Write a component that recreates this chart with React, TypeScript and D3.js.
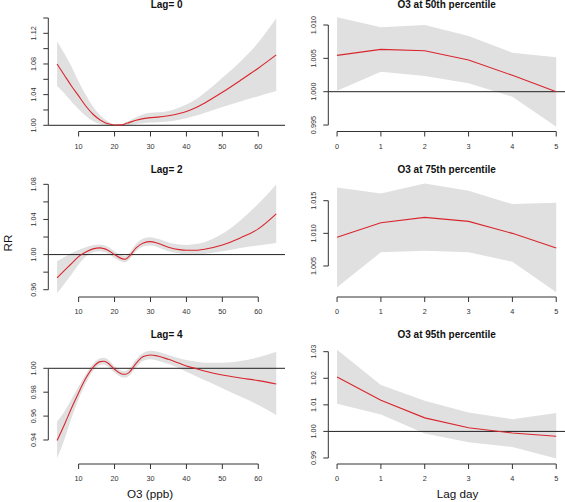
import React from "react";
import * as d3 from "d3";

// ---------- data ----------
const o3 = [4, 6, 8, 10, 12, 14, 16, 17, 18, 20, 22, 23, 24, 26, 28, 30, 32, 35, 38, 40, 43, 45, 50, 55, 60, 65];

const lag0Est = [1.080, 1.0657, 1.0513, 1.0383, 1.0252, 1.0144, 1.0070, 1.0043, 1.0022, 1.0003, 1.0005, 1.0021, 1.0035, 1.0065, 1.0087, 1.0100, 1.0106, 1.0124, 1.0153, 1.0180, 1.0238, 1.0288, 1.0430, 1.0585, 1.0745, 1.0918];
const lag0Hi = [1.1092, 1.094, 1.0766, 1.057, 1.0396, 1.0244, 1.013, 1.009, 1.0057, 1.0013, 1.0017, 1.0035, 1.0057, 1.0104, 1.0144, 1.0165, 1.017, 1.0188, 1.0232, 1.027, 1.035, 1.042, 1.062, 1.083, 1.108, 1.1396];
const lag0Lo = [1.0513, 1.0418, 1.0309, 1.0209, 1.0122, 1.0057, 1.0017, 1.0006, 1.0, 0.9996, 0.9996, 0.9999, 1.0004, 1.0017, 1.0026, 1.0035, 1.0040, 1.0050, 1.0073, 1.0092, 1.013, 1.016, 1.024, 1.031, 1.038, 1.0448];

const lag2Est = [0.9734, 0.9818, 0.9897, 0.9977, 1.003, 1.0065, 1.0076, 1.0068, 1.0053, 1.0, 0.9954, 0.9947, 0.9977, 1.0076, 1.0133, 1.0148, 1.0129, 1.0084, 1.0057, 1.0049, 1.0049, 1.0061, 1.011, 1.019, 1.0293, 1.0464];
const lag2Hi = [0.9924, 0.997, 1.0015, 1.0053, 1.0084, 1.0106, 1.0114, 1.0106, 1.0091, 1.0038, 0.9992, 0.9985, 1.0015, 1.0122, 1.0182, 1.0198, 1.0179, 1.0137, 1.0114, 1.011, 1.0122, 1.0141, 1.0236, 1.0388, 1.0578, 1.0798];
const lag2Lo = [0.9559, 0.9666, 0.9772, 0.9886, 0.9977, 1.0027, 1.0038, 1.003, 1.0015, 0.9962, 0.992, 0.9913, 0.9939, 1.0038, 1.0091, 1.0103, 1.0084, 1.0038, 1.0011, 1.0, 1.0, 1.0008, 1.0038, 1.0076, 1.0103, 1.0133];

const lag4Est = [0.9395, 0.9526, 0.9665, 0.9796, 0.9916, 1.0008, 1.0056, 1.0059, 1.0047, 0.9992, 0.9953, 0.995, 0.9964, 1.0042, 1.0098, 1.0112, 1.0103, 1.0075, 1.0042, 1.002, 0.9995, 0.9978, 0.9944, 0.9919, 0.9897, 0.9869];
const lag4Hi = [0.9554, 0.9637, 0.9741, 0.9847, 0.9953, 1.0036, 1.0084, 1.0089, 1.0078, 1.002, 0.998, 0.9978, 0.9994, 1.0075, 1.0131, 1.0148, 1.0139, 1.0112, 1.0084, 1.007, 1.0055, 1.0047, 1.0047, 1.0061, 1.0092, 1.0139];
const lag4Lo = [0.9247, 0.94, 0.9581, 0.9741, 0.9874, 0.9978, 1.0028, 1.0031, 1.0017, 0.9964, 0.9925, 0.9922, 0.9936, 1.0008, 1.0064, 1.0075, 1.0064, 1.0036, 1.0, 0.9972, 0.993, 0.9902, 0.9833, 0.9763, 0.9693, 0.9609];

const lagDays = [0, 1, 2, 3, 4, 5];

const p50Est = [1.00545, 1.00635, 1.00615, 1.00475, 1.00245, 1.0000];
const p50Hi = [1.01115, 1.00965, 1.0100, 1.00835, 1.00585, 1.00515];
const p50Lo = [1.00015, 1.003, 1.00235, 1.00125, 0.99925, 0.99475];

const p75Est = [1.00939, 1.01162, 1.01245, 1.01183, 1.0100, 1.00775];
const p75Hi = [1.01703, 1.01612, 1.01765, 1.01652, 1.01448, 1.01469];
const p75Lo = [1.00174, 1.0071, 1.00734, 1.0071, 1.00566, 1.00098];

const p95Est = [1.0205, 1.01176, 1.0051, 1.0014, 0.9994, 0.9982];
const p95Hi = [1.03075, 1.0175, 1.0115, 1.0071, 1.0046, 1.0069];
const p95Lo = [1.0104, 1.0064, 0.9992, 0.9959, 0.9941, 0.98985];

// axis limits and ticks
const o3Domain = [1.56, 67.44];
const o3Ticks = [10, 20, 30, 40, 50, 60];
const lagDomain = [-0.2, 5.2];
const lagTicks = [0, 1, 2, 3, 4, 5];

const lag0YDomain = [0.9919, 1.1452];
const lag0YTicks = [1.0, 1.02, 1.04, 1.06, 1.08, 1.1, 1.12, 1.14];
const lag0YLabels = [1.0, 1.04, 1.08, 1.12];

const lag2YDomain = [0.9517, 1.0838];
const lag2YTicks = [0.96, 0.98, 1.0, 1.02, 1.04, 1.06, 1.08];
const lag2YLabels = [0.96, 1.0, 1.04, 1.08];

const lag4YDomain = [0.9199, 1.017];
const lag4YTicks = [0.94, 0.96, 0.98, 1.0];
const lag4YLabels = [0.94, 0.96, 0.98, 1.0];

const p50YDomain = [0.99403, 1.01165];
const p50YTicks = [0.995, 1.0, 1.005, 1.01];

const p75YDomain = [1.00025, 1.01802];
const p75YTicks = [1.005, 1.01, 1.015];

const p95YDomain = [0.98774, 1.03139];
const p95YTicks = [0.99, 1.0, 1.01, 1.02, 1.03];

// ---------- layout ----------
const W = 565;
const H = 502;
const colX = [
  [48.3, 285],
  [328.3, 565],
];
const rowY = [
  [131.5, 14],
  [297, 181],
  [464, 348],
];
const titleBaseline = [8, 172.5, 338];
const FONT = "'Liberation Sans', Arial, Helvetica, sans-serif";
const TEXT = "#333";
const AXIS = "#333";
const BAND = "#e0e0e0";
const RED = "#d9262e";

type Panel = {
  title: string;
  col: number;
  row: number;
  x: number[];
  est: number[];
  hi: number[];
  lo: number[];
  xDomain: number[];
  xTicks: number[];
  yDomain: number[];
  yTicks: number[];
  yLabels: number[];
  fmt: (v: number) => string;
  smooth: boolean;
};

const f2 = d3.format(".2f");
const f3 = d3.format(".3f");

const panels: Panel[] = [
  { title: "Lag= 0", col: 0, row: 0, x: o3, est: lag0Est, hi: lag0Hi, lo: lag0Lo, xDomain: o3Domain, xTicks: o3Ticks, yDomain: lag0YDomain, yTicks: lag0YTicks, yLabels: lag0YLabels, fmt: f2, smooth: true },
  { title: "Lag= 2", col: 0, row: 1, x: o3, est: lag2Est, hi: lag2Hi, lo: lag2Lo, xDomain: o3Domain, xTicks: o3Ticks, yDomain: lag2YDomain, yTicks: lag2YTicks, yLabels: lag2YLabels, fmt: f2, smooth: true },
  { title: "Lag= 4", col: 0, row: 2, x: o3, est: lag4Est, hi: lag4Hi, lo: lag4Lo, xDomain: o3Domain, xTicks: o3Ticks, yDomain: lag4YDomain, yTicks: lag4YTicks, yLabels: lag4YLabels, fmt: f2, smooth: true },
  { title: "O3 at 50th percentile", col: 1, row: 0, x: lagDays, est: p50Est, hi: p50Hi, lo: p50Lo, xDomain: lagDomain, xTicks: lagTicks, yDomain: p50YDomain, yTicks: p50YTicks, yLabels: p50YTicks, fmt: f3, smooth: false },
  { title: "O3 at 75th percentile", col: 1, row: 1, x: lagDays, est: p75Est, hi: p75Hi, lo: p75Lo, xDomain: lagDomain, xTicks: lagTicks, yDomain: p75YDomain, yTicks: p75YTicks, yLabels: p75YTicks, fmt: f3, smooth: false },
  { title: "O3 at 95th percentile", col: 1, row: 2, x: lagDays, est: p95Est, hi: p95Hi, lo: p95Lo, xDomain: lagDomain, xTicks: lagTicks, yDomain: p95YDomain, yTicks: p95YTicks, yLabels: p95YTicks, fmt: f2, smooth: false },
];

function PanelView({ p }: { p: Panel }) {
  const [x0, x1] = colX[p.col];
  const [y0, y1] = rowY[p.row];
  const xs = d3.scaleLinear().domain(p.xDomain).range([x0, x1]);
  const ys = d3.scaleLinear().domain(p.yDomain).range([y0, y1]);
  const curve = p.smooth ? d3.curveMonotoneX : d3.curveLinear;
  const idx = p.x.map((_, i) => i);
  const area = d3
    .area<number>()
    .x((i) => xs(p.x[i]))
    .y0((i) => ys(p.lo[i]))
    .y1((i) => ys(p.hi[i]))
    .curve(curve);
  const line = d3
    .line<number>()
    .x((i) => xs(p.x[i]))
    .y((i) => ys(p.est[i]))
    .curve(curve);
  const showRef = p.yDomain[0] < 1 && p.yDomain[1] > 1;
  const yt0 = ys(p.yTicks[0]);
  const yt1 = ys(p.yTicks[p.yTicks.length - 1]);
  const xt0 = xs(p.xTicks[0]);
  const xt1 = xs(p.xTicks[p.xTicks.length - 1]);
  const tick = 5;
  return (
    <g>
      <path d={area(idx) || ""} fill={BAND} stroke="none" />
      {showRef && (
        <line x1={x0} x2={x1} y1={ys(1)} y2={ys(1)} stroke="#222" strokeWidth={1} />
      )}
      <path d={line(idx) || ""} fill="none" stroke={RED} strokeWidth={1.1} />
      {/* y axis */}
      <line x1={x0} x2={x0} y1={yt0} y2={yt1} stroke={AXIS} strokeWidth={1} />
      {p.yTicks.map((t) => (
        <line key={"yt" + t} x1={x0 - tick} x2={x0} y1={ys(t)} y2={ys(t)} stroke={AXIS} strokeWidth={1} />
      ))}
      {p.yLabels.map((t) => (
        <text
          key={"yl" + t}
          transform={`translate(${x0 - 14.5},${ys(t)}) rotate(-90)`}
          textAnchor="middle"
          dominantBaseline="central"
          fontSize={7.3}
          fill={TEXT}
          fontFamily={FONT}
        >
          {p.fmt(t)}
        </text>
      ))}
      {/* x axis */}
      <line x1={xt0} x2={xt1} y1={y0} y2={y0} stroke={AXIS} strokeWidth={1} />
      {p.xTicks.map((t) => (
        <line key={"xt" + t} x1={xs(t)} x2={xs(t)} y1={y0} y2={y0 + tick} stroke={AXIS} strokeWidth={1} />
      ))}
      {p.xTicks.map((t) => (
        <text
          key={"xl" + t}
          x={xs(t)}
          y={y0 + 14.5}
          textAnchor="middle"
          dominantBaseline="central"
          fontSize={7.3}
          fill={TEXT}
          fontFamily={FONT}
        >
          {String(t)}
        </text>
      ))}
      <text
        x={(x0 + x1) / 2}
        y={titleBaseline[p.row]}
        textAnchor="middle"
        fontSize={10}
        fontWeight="bold"
        fill="#111"
        fontFamily={FONT}
      >
        {p.title}
      </text>
    </g>
  );
}

export default function App() {
  return (
    <svg
      width={W}
      height={H}
      viewBox={`0 0 ${W} ${H}`}
      style={{ position: "fixed", left: 0, top: 0, background: "#fff" }}
    >
      <rect x={0} y={0} width={W} height={H} fill="#fff" />
      {panels.map((p) => (
        <PanelView key={p.title} p={p} />
      ))}
      <text
        transform={`translate(7,243) rotate(-90)`}
        textAnchor="middle"
        dominantBaseline="central"
        fontSize={11.7}
        fill="#111"
        fontFamily={FONT}
      >
        RR
      </text>
      <text x={150} y={498} textAnchor="middle" fontSize={11.7} fill="#111" fontFamily={FONT}>
        O3 (ppb)
      </text>
      <text x={457.5} y={497.5} textAnchor="middle" fontSize={11.7} fill="#111" fontFamily={FONT}>
        Lag day
      </text>
    </svg>
  );
}
